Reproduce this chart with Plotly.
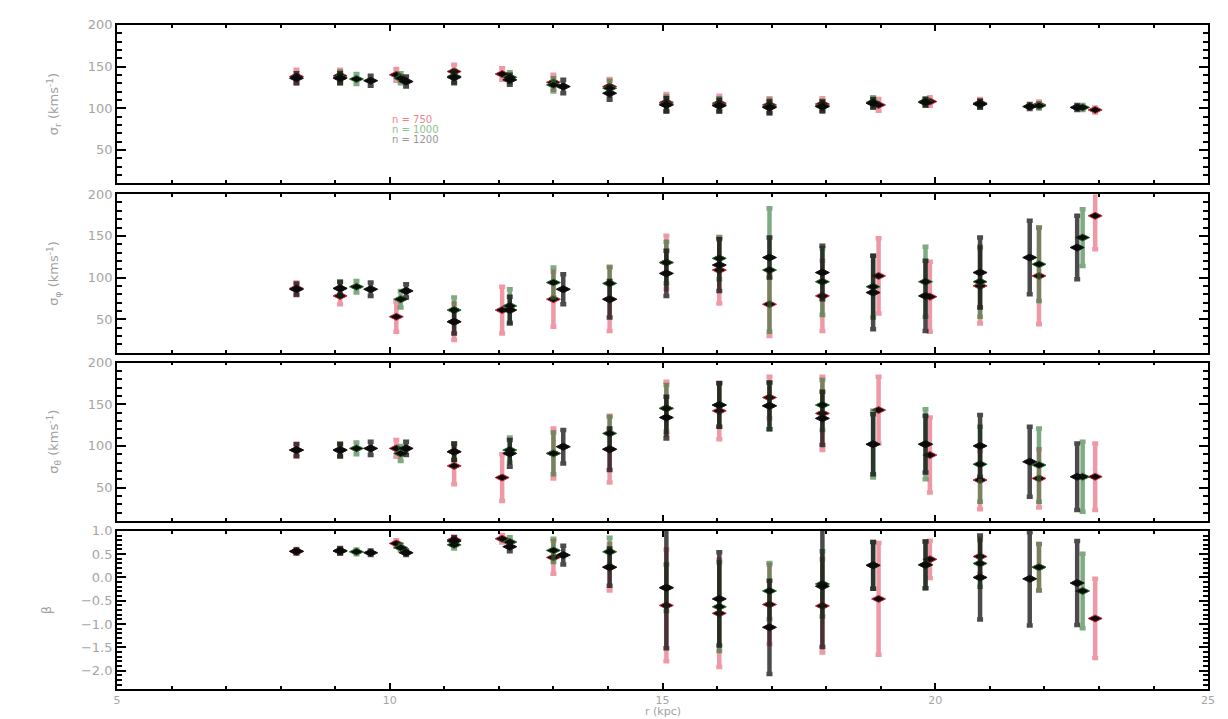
import plotly.graph_objects as go

# Radial bin centres (kpc) for the three bin sizes
R_750 = [8.29, 9.09, 10.12, 11.18, 12.06, 13.0, 14.03, 15.07, 16.04, 16.96,
         17.93, 18.96, 19.9, 20.82, 21.9, 22.93]
R_1000 = [9.09, 9.39, 10.2, 11.18, 12.2, 13.0, 14.03, 15.07, 16.04, 16.96,
          17.93, 18.86, 19.82, 20.82, 21.9, 22.7]
R_1200 = [8.29, 9.09, 9.65, 10.3, 11.18, 12.2, 13.18, 14.03, 15.07, 16.04,
          16.96, 17.93, 18.86, 19.82, 20.82, 21.73, 22.6]

# sigma_r (km/s)
SR_750 = [138, 139, 140, 144, 141, 131, 126, 107, 106, 104, 105, 104, 108, 106, 104, 98]
SR_750_ERR = [8, 7, 7, 8, 7, 9, 9, 10, 9, 8, 7, 7, 5, 5, 4, 3]
SR_1000 = [137, 135, 136, 138, 137, 128, 124, 105, 104, 102, 103, 107, 108, 105, 103, 101]
SR_1000_ERR = [7, 6, 6, 7, 6, 8, 9, 9, 8, 8, 6, 6, 4, 4, 3, 3]
SR_1200 = [136, 136, 133, 132, 137, 134, 126, 118, 104, 103, 101, 102, 106, 107, 105, 102, 101]
SR_1200_ERR = [6, 6, 6, 6, 7, 6, 8, 8, 8, 7, 7, 6, 5, 4, 4, 3, 3]

# sigma_phi (km/s)
SP_750 = [87, 78, 53, 47, 61, 74, 74, 118, 109, 68, 78, 102, 77, 90, 102, 174]
SP_750_ERR = [7, 10, 18, 22, 28, 33, 38, 32, 40, 38, 42, 45, 42, 45, 58, 40]
SP_1000 = [87, 89, 74, 61, 66, 94, 93, 118, 123, 109, 95, 89, 95, 95, 116, 148]
SP_1000_ERR = [8, 7, 10, 15, 20, 18, 20, 25, 25, 74, 40, 37, 42, 42, 44, 34]
SP_1200 = [86, 87, 86, 84, 47, 61, 86, 74, 105, 115, 124, 106, 82, 78, 106, 124, 136]
SP_1200_ERR = [7, 8, 8, 8, 14, 16, 18, 22, 27, 31, 24, 32, 44, 42, 42, 44, 38]

# sigma_theta (km/s)
ST_750 = [95, 95, 97, 76, 62, 91, 96, 145, 142, 158, 139, 143, 89, 59, 61, 63]
ST_750_ERR = [8, 8, 10, 22, 28, 30, 40, 32, 34, 25, 44, 40, 45, 35, 35, 40]
ST_1000 = [95, 97, 91, 93, 95, 91, 115, 145, 149, 148, 149, 102, 102, 78, 77, 63]
ST_1000_ERR = [8, 7, 9, 10, 15, 25, 20, 28, 26, 28, 30, 40, 42, 45, 44, 42]
ST_1200 = [95, 95, 97, 97, 93, 91, 99, 96, 134, 149, 148, 133, 102, 102, 100, 81, 63]
ST_1200_ERR = [7, 7, 8, 8, 10, 16, 20, 25, 25, 26, 28, 32, 36, 34, 37, 42, 40]

# anisotropy beta
B_750 = [0.56, 0.57, 0.73, 0.81, 0.83, 0.43, 0.22, -0.60, -0.77, -0.58, -0.61, -0.46,
         0.39, 0.45, 0.22, -0.88]
B_750_ERR = [0.05, 0.06, 0.07, 0.07, 0.08, 0.35, 0.50, 1.20, 1.15, 0.85, 1.00, 1.20,
             0.40, 0.38, 0.50, 0.85]
B_1000 = [0.57, 0.55, 0.64, 0.70, 0.76, 0.58, 0.55, -0.22, -0.63, -0.29, -0.14, 0.26,
          0.27, 0.30, 0.22, -0.29]
B_1000_ERR = [0.06, 0.05, 0.06, 0.08, 0.10, 0.25, 0.30, 0.50, 0.95, 0.60, 0.70, 0.50,
              0.50, 0.50, 0.50, 0.80]
B_1200 = [0.56, 0.57, 0.53, 0.53, 0.78, 0.66, 0.48, 0.22, -0.22, -0.46, -1.07, -0.19,
          0.26, 0.27, 0.00, -0.03, -0.12]
B_1200_ERR = [0.04, 0.05, 0.05, 0.05, 0.08, 0.10, 0.20, 0.40, 1.30, 1.00, 1.00, 1.30,
              0.50, 0.50, 0.90, 1.00, 0.90]

LEGEND_LABELS = ["n = 750", "n = 1000", "n = 1200"]

W, H = 1228, 719
X_DOM = [114 / W, 1215 / W]
# panel top/bottom edges in pixels
PANEL_PX = [(18, 178), (189, 349), (359, 519), (529, 689)]

ERR_COLORS = ["rgba(225,70,95,0.55)", "rgba(40,115,45,0.60)", "rgba(15,15,15,0.75)"]
EDGE_COLORS = ["rgb(200,40,60)", "rgb(40,110,40)", "rgb(20,20,20)"]
TEXT_COLORS = ["rgb(240,130,140)", "rgb(140,195,140)", "rgb(150,150,150)"]

series = [
    (R_750, [(SR_750, SR_750_ERR), (SP_750, SP_750_ERR), (ST_750, ST_750_ERR), (B_750, B_750_ERR)]),
    (R_1000, [(SR_1000, SR_1000_ERR), (SP_1000, SP_1000_ERR), (ST_1000, ST_1000_ERR), (B_1000, B_1000_ERR)]),
    (R_1200, [(SR_1200, SR_1200_ERR), (SP_1200, SP_1200_ERR), (ST_1200, ST_1200_ERR), (B_1200, B_1200_ERR)]),
]

fig = go.Figure()

for si, (rr, panels) in enumerate(series):
    for pi, (vals, errs) in enumerate(panels):
        ax = "" if pi == 0 else str(pi + 1)
        fig.add_trace(go.Scatter(
            x=rr, y=vals, mode="markers",
            xaxis="x" + ax, yaxis="y" + ax,
            marker=dict(symbol="diamond-wide", size=10, color="rgb(10,10,10)",
                        line=dict(color=EDGE_COLORS[si], width=1)),
            error_y=dict(type="data", array=errs, color=ERR_COLORS[si],
                         thickness=4.5, width=3),
            showlegend=False, hoverinfo="skip",
        ))

tick_font = dict(family="DejaVu Sans", size=13, color="rgb(165,165,165)")
title_font = dict(family="DejaVu Sans", size=13, color="rgb(160,160,160)")

y_titles = ["σ<sub>r</sub> (kms<sup>-1</sup>)", "σ<sub>φ</sub> (kms<sup>-1</sup>)",
            "σ<sub>θ</sub> (kms<sup>-1</sup>)", "β"]

layout = dict(
    width=W, height=H, margin=dict(l=0, r=0, t=0, b=0),
    paper_bgcolor="white", plot_bgcolor="white",
    font=tick_font,
)

for pi in range(4):
    top, bot = PANEL_PX[pi]
    ydom = [1 - bot / H, 1 - top / H]
    ax = "" if pi == 0 else str(pi + 1)
    last = pi == 3
    xa = dict(
        domain=X_DOM, range=[5, 25], anchor="y" + ax,
        tickvals=[5, 10, 15, 20, 25], showticklabels=last,
        ticks="inside", ticklen=6, tickwidth=1.5, tickcolor="black",
        minor=dict(dtick=1, ticks="inside", ticklen=3, tickcolor="black", tickwidth=1.5),
        showline=True, linecolor="black", linewidth=1.8, mirror="ticks",
        showgrid=False, zeroline=False,
        tickfont=dict(family="DejaVu Sans", size=11, color="rgb(165,165,165)"),
    )
    if pi > 0:
        xa["matches"] = "x"
    if pi == 3:
        ya_range = [-2.4, 1.0]
        tv = [-2.0, -1.5, -1.0, -0.5, 0.0, 0.5, 1.0]
        tt = ["−2.0", "−1.5", "−1.0", "−0.5", "0.0", "0.5", "1.0"]
        mdt = 0.1
    else:
        ya_range = [10, 200]
        tv = [50, 100, 150, 200]
        tt = ["50", "100", "150", "200"]
        mdt = 10
    ya = dict(
        domain=ydom, range=ya_range, anchor="x" + ax,
        tickvals=tv, ticktext=tt,
        ticks="inside", ticklen=9, tickwidth=1.5, tickcolor="black",
        minor=dict(dtick=mdt, ticks="inside", ticklen=5, tickcolor="black", tickwidth=1.5),
        showline=True, linecolor="black", linewidth=1.8, mirror="ticks",
        showgrid=False, zeroline=False, tickfont=tick_font,
        title=dict(text=y_titles[pi], font=title_font, standoff=26),
    )
    layout["xaxis" + ax] = xa
    layout["yaxis" + ax] = ya

fig.update_layout(**layout)

# x-axis title placed just under the bottom tick labels
fig.add_annotation(x=15, y=0, xref="x4", yref="paper", text="r (kpc)",
                   showarrow=False, xanchor="center", yanchor="bottom", yshift=-1,
                   font=dict(family="DejaVu Sans", size=11, color="rgb(160,160,160)"))

# Legend text inside the top panel
for i, (lab, col) in enumerate(zip(LEGEND_LABELS, TEXT_COLORS)):
    fig.add_annotation(x=10.0, y=86 - 12 * i, xref="x", yref="y", text=lab,
                       showarrow=False, xanchor="left", yanchor="middle",
                       font=dict(family="DejaVu Sans", size=10, color=col))

fig.write_html("out.html")
